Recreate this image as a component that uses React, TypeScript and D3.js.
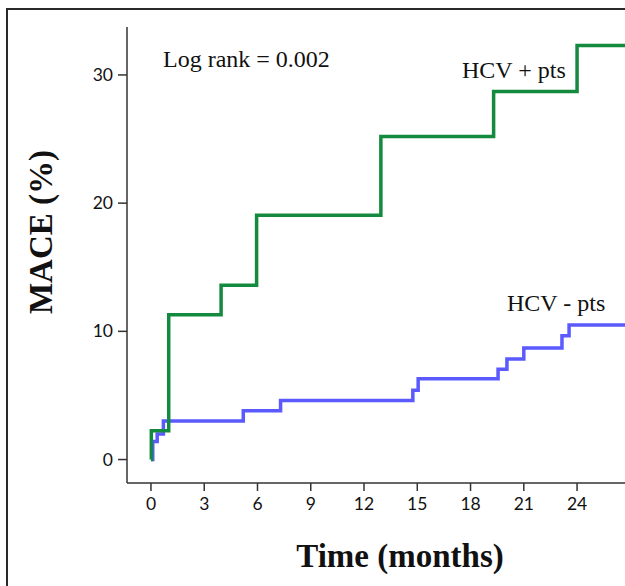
import { useMemo } from "react";
import * as d3 from "d3";

// HCV+ and HCV- cumulative MACE curves (Kaplan-Meier style, step after)
const hcvPosMonths = [0, 0.02, 1.0, 3.95, 5.95, 12.95, 19.3, 24.0];
const hcvPosMace = [0, 2.25, 11.3, 13.6, 19.05, 25.2, 28.7, 32.3];
const hcvNegMonths = [0, 0.1, 0.35, 0.7, 5.2, 7.3, 14.75, 15.05, 19.55, 20.05, 21.0, 23.15, 23.55];
const hcvNegMace = [0, 1.4, 2.0, 3.0, 3.8, 4.6, 5.4, 6.3, 7.05, 7.85, 8.7, 9.65, 10.5];

const xTickValues = [0, 3, 6, 9, 12, 15, 18, 21, 24];
const yTickValues = [0, 10, 20, 30];

const logRankLabel = "Log rank = 0.002";
const posLabel = "HCV + pts";
const negLabel = "HCV - pts";

const W = 625, H = 586;
const serif = "'Liberation Serif', 'Times New Roman', serif";
const tickFont = "Lato, 'Open Sans', sans-serif";

export default function App() {
  const x = useMemo(() => d3.scaleLinear().domain([-1.35, 26.7]).range([127, 625]), []);
  const y = useMemo(() => d3.scaleLinear().domain([-1.83, 33.74]).range([483, 27]), []);
  const xEnd = x.domain()[1];

  const mk = (ts: number[], vs: number[]) => {
    const pts = ts.map((t, i) => [t, vs[i]] as [number, number]);
    pts.push([xEnd, vs[vs.length - 1]]);
    return d3.line<[number, number]>().x((d) => x(d[0])).y((d) => y(d[1])).curve(d3.curveStepAfter)(pts) ?? "";
  };

  const [y0, y1] = y.range();
  const x0 = x.range()[0];

  return (
    <svg width={W} height={H} style={{ position: "absolute", left: 0, top: 0, background: "#fff" }}>
      {/* outer frame */}
      <path d={`M7,${H} L7,9 L${W},9`} fill="none" stroke="#2a2a2a" strokeWidth={2} />

      {/* axes */}
      <line x1={x0} x2={x0} y1={y1} y2={y0} stroke="#333" strokeWidth={1.5} />
      <line x1={x0} x2={W} y1={y0} y2={y0} stroke="#333" strokeWidth={1.5} />
      {yTickValues.map((t) => (
        <g key={`y${t}`}>
          <line x1={x0 - 9} x2={x0} y1={y(t)} y2={y(t)} stroke="#333" strokeWidth={1.5} />
          <text x={x0 - 14} y={y(t) + 6} textAnchor="end" fontSize={17.5} fontFamily={tickFont} fill="#111">{t}</text>
        </g>
      ))}
      {xTickValues.map((t) => (
        <g key={`x${t}`}>
          <line x1={x(t)} x2={x(t)} y1={y0} y2={y0 + 8} stroke="#333" strokeWidth={1.5} />
          <text x={x(t)} y={y0 + 27} textAnchor="middle" fontSize={17.5} fontFamily={tickFont} fill="#111">{t}</text>
        </g>
      ))}

      {/* curves */}
      <path d={mk(hcvNegMonths, hcvNegMace)} fill="none" stroke="#5a5aff" strokeWidth={3.5} />
      <path d={mk(hcvPosMonths, hcvPosMace)} fill="none" stroke="#138a3e" strokeWidth={3.5} />

      {/* annotations */}
      <text x={163} y={67} fontSize={24} fontFamily={serif} fill="#111">{logRankLabel}</text>
      <text x={462} y={78} fontSize={24} fontFamily={serif} fill="#111">{posLabel}</text>
      <text x={507} y={311} fontSize={24} fontFamily={serif} fill="#111">{negLabel}</text>

      {/* axis titles */}
      <text transform="translate(52,232) rotate(-90)" textAnchor="middle" fontSize={33} fontWeight="bold" fontFamily={serif} fill="#111">MACE (%)</text>
      <text x={400} y={567} textAnchor="middle" fontSize={33} fontWeight="bold" fontFamily={serif} fill="#111">Time (months)</text>
    </svg>
  );
}
